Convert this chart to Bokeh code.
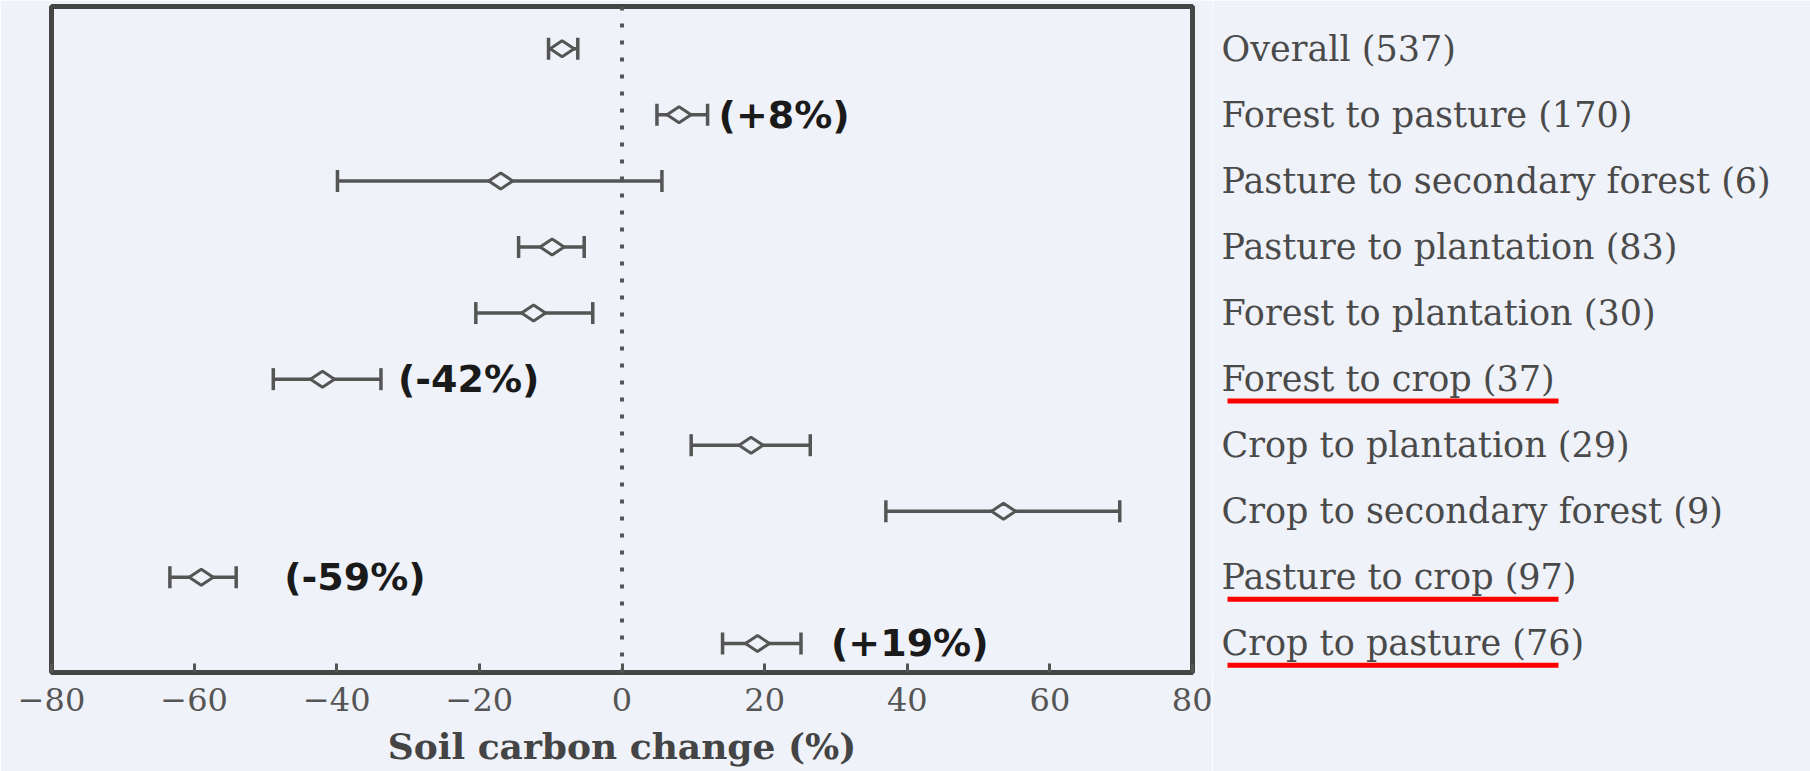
import math

from bokeh.core.properties import value
from bokeh.embed import file_html
from bokeh.layouts import row
from bokeh.models import ColumnDataSource, FixedTicker, Range1d, Span
from bokeh.plotting import figure
from bokeh.resources import INLINE

# ---- data -------------------------------------------------------------
categories = [
    "Overall (537)",
    "Forest to pasture (170)",
    "Pasture to secondary forest (6)",
    "Pasture to plantation (83)",
    "Forest to plantation (30)",
    "Forest to crop (37)",
    "Crop to plantation (29)",
    "Crop to secondary forest (9)",
    "Pasture to crop (97)",
    "Crop to pasture (76)",
]
mean_change = [-8.4, 8, -17.0, -9.8, -12.4, -42, 18.1, 53.5, -59, 19]
ci_lower = [-10.3, 4.9, -39.9, -14.5, -20.5, -48.9, 9.7, 37.0, -63.4, 14.1]
ci_upper = [-6.2, 12.0, 5.6, -5.3, -4.1, -33.8, 26.4, 69.8, -54.1, 25.1]

x_ticks = [-80, -60, -40, -20, 0, 20, 40, 60, 80]
x_tick_labels = ["\u221280", "\u221260", "\u221240", "\u221220", "0", "20", "40", "60", "80"]

# percentage call-outs next to selected transitions
callout_rows = ["Forest to pasture (170)", "Forest to crop (37)",
                "Pasture to crop (97)", "Crop to pasture (76)"]
callout_values = [8, -42, -59, 19]

underlined_rows = ["Forest to crop (37)", "Pasture to crop (97)", "Crop to pasture (76)"]

# ---- styling ----------------------------------------------------------
BG = "#eff2f9"
INK = "#555555"
FRAME = "#454545"
callout_gap_px = [11, 17, 48, 30]

n = len(categories)
ypos = [n - 1 - i for i in range(n)]
y_range = Range1d(-0.44, 9.64)

src = ColumnDataSource(dict(
    cat=categories, y=ypos, mean=mean_change, lo=ci_lower, hi=ci_upper,
))

p = figure(
    width=1212, height=771,
    x_range=Range1d(-80, 80), y_range=y_range,
    output_backend="svg", toolbar_location=None,
    y_axis_location=None,
    min_border_left=51, min_border_right=20,
    min_border_top=6, min_border_bottom=99,
    background_fill_color=BG, border_fill_color=BG,
    outline_line_color=FRAME, outline_line_width=5,
)
p.xgrid.visible = False
p.ygrid.visible = False

ax = p.xaxis[0]
ax.ticker = FixedTicker(ticks=x_ticks)
ax.major_label_overrides = {t: lab for t, lab in zip(x_ticks, x_tick_labels)}
ax.axis_line_color = FRAME
ax.axis_line_width = 5
ax.major_tick_in = 9
ax.major_tick_out = 0
ax.major_tick_line_width = 3
ax.major_tick_line_color = INK
ax.minor_tick_line_color = None
ax.major_label_text_font = "DejaVu Serif"
ax.major_label_text_font_size = "32px"
ax.major_label_text_color = INK
ax.major_label_standoff = 15
ax.axis_label = "Soil carbon change (%)"
ax.axis_label_text_font = "DejaVu Serif"
ax.axis_label_text_font_style = "bold"
ax.axis_label_text_font_size = "36px"
ax.axis_label_text_color = "#444444"
ax.axis_label_standoff = 11

# zero reference line
p.add_layout(Span(location=0, dimension="height", line_color=INK,
                  line_width=4, line_dash="4 13"))

# confidence intervals with end caps, open diamonds for the means
p.segment(x0="lo", y0="y", x1="hi", y1="y", source=src,
          line_color=INK, line_width=3.5)
for col in ("lo", "hi"):
    p.scatter(x=col, y="y", source=src, marker="dash", angle=math.pi / 2,
              size=22, line_color=INK, line_width=3.5)
p.scatter(x="mean", y="y", source=src, marker="diamond", angle=math.pi / 2,
          size=24, fill_color=BG, line_color=INK, line_width=3)

# percentage call-outs
idx = [categories.index(c) for c in callout_rows]
callout_src = ColumnDataSource(dict(
    x=[ci_upper[i] for i in idx],
    y=[ypos[i] for i in idx],
    text=[f"({v:+d}%)" for v in callout_values],
    dx=callout_gap_px,
))
p.text(x="x", y="y", text="text", x_offset="dx", source=callout_src,
       text_font=value("DejaVu Sans"), text_font_style="bold",
       text_font_size="38px", text_baseline="middle", text_align="left",
       text_color="#1a1a1a")

# ---- category labels to the right of the frame -------------------------
s = figure(
    width=598, height=771,
    x_range=Range1d(0, 598), y_range=y_range,
    output_backend="svg", toolbar_location=None,
    x_axis_location=None, y_axis_location=None,
    min_border_left=0, min_border_right=0,
    min_border_top=6, min_border_bottom=99,
    background_fill_color=BG, border_fill_color=BG,
    outline_line_color=None,
)
s.xgrid.visible = False
s.ygrid.visible = False
s.text(x=9, y="y", text="cat", source=src,
       text_font=value("DejaVu Serif"), text_font_size="35px",
       text_color="#4a4a4a", text_baseline="middle", text_align="left")

ul_idx = [categories.index(c) for c in underlined_rows]
ul_src = ColumnDataSource(dict(y=[ypos[i] - 0.33 for i in ul_idx]))
s.segment(x0=15, x1=346, y0="y", y1="y", source=ul_src,
          line_color="#ff0000", line_width=5)

layout = row(p, s)
open("out.html", "w").write(file_html(layout, INLINE, title="Soil carbon change"))
